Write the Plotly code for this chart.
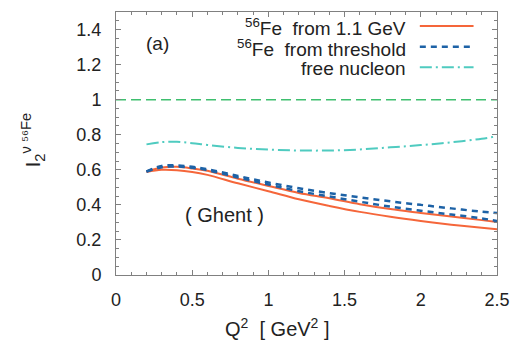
import plotly.graph_objects as go

# Q^2 grid [GeV^2]
q2 = [0.2, 0.3, 0.4, 0.5, 0.6, 0.8, 1.0, 1.2, 1.4, 1.6, 1.8, 2.0, 2.2, 2.4, 2.5]

# 56Fe from 1.1 GeV (band: upper / lower)
fe_11_upper = [0.590, 0.613, 0.617, 0.608, 0.594, 0.549, 0.508, 0.468, 0.438, 0.404, 0.376, 0.354, 0.333, 0.313, 0.302]
fe_11_lower = [0.588, 0.600, 0.598, 0.588, 0.571, 0.523, 0.478, 0.432, 0.394, 0.360, 0.332, 0.308, 0.287, 0.269, 0.261]

# 56Fe from threshold (band: upper / lower)
fe_th_upper = [0.590, 0.622, 0.625, 0.617, 0.603, 0.565, 0.528, 0.495, 0.467, 0.443, 0.420, 0.400, 0.380, 0.361, 0.354]
fe_th_lower = [0.590, 0.615, 0.619, 0.612, 0.598, 0.556, 0.516, 0.478, 0.448, 0.418, 0.390, 0.367, 0.345, 0.323, 0.308]

# free nucleon
free_nuc = [0.745, 0.758, 0.760, 0.752, 0.742, 0.725, 0.715, 0.710, 0.710, 0.716, 0.728, 0.741, 0.757, 0.777, 0.792]

# reference line
ref_x = [0.0, 2.5]
ref_y = [1.0, 1.0]

legend_labels = ["<sup>56</sup>Fe  from 1.1 GeV", "<sup>56</sup>Fe  from threshold", "free nucleon"]
x_tickvals = [0, 0.5, 1, 1.5, 2, 2.5]
x_ticktext = ["0", "0.5", "1", "1.5", "2", "2.5"]
y_tickvals = [0, 0.2, 0.4, 0.6, 0.8, 1.0, 1.2, 1.4]
y_ticktext = ["0", "0.2", "0.4", "0.6", "0.8", "1", "1.2", "1.4"]

RED = "#f5663a"
BLUE = "#1d62a6"
CYAN = "#4fcbc0"
GREEN = "#3fbf6f"
TXT = "#222222"
FONT = "Liberation Sans, Arial, sans-serif"

H = 340.0
T, B, L, R = 11.0, 65.0, 116.0, 15.0
pw = 521.0 - L - R
ph = H - T - B


def px(xp):
    return (xp - L) / pw


def py(yp):
    return 1 - (yp - T) / ph


fig = go.Figure()
fig.add_trace(go.Scatter(x=ref_x, y=ref_y, mode="lines",
                         line=dict(color=GREEN, width=1.5, dash="10px,5px"), showlegend=False))
fig.add_trace(go.Scatter(x=q2, y=free_nuc, mode="lines", line_shape="spline",
                         line=dict(color=CYAN, width=2, dash="12px,4px,2px,4px"), showlegend=False))
for ys in (fe_11_upper, fe_11_lower):
    fig.add_trace(go.Scatter(x=q2, y=ys, mode="lines", line_shape="spline",
                             line=dict(color=RED, width=2), showlegend=False))
for ys in (fe_th_upper, fe_th_lower):
    fig.add_trace(go.Scatter(x=q2, y=ys, mode="lines", line_shape="spline",
                             line=dict(color=BLUE, width=2.5, dash="6px,5px"), showlegend=False))

# manual legend (text right-aligned, sample line to the right)
leg_styles = [dict(color=RED, width=2), dict(color=BLUE, width=2.5, dash="6px,5px"),
              dict(color=CYAN, width=2, dash="12px,4px,2px,4px")]
leg_line_y = [25.0, 46.0, 66.5]
leg_text_y = [26.5, 47.0, 67.5]
for lab, st, yl, yt in zip(legend_labels, leg_styles, leg_line_y, leg_text_y):
    fig.add_annotation(x=px(415), y=py(yt), xref="paper", yref="paper", text=lab, showarrow=False,
                       xanchor="right", yanchor="middle", font=dict(size=19, color=TXT, family=FONT))
    fig.add_shape(type="line", xref="paper", yref="paper",
                  x0=px(427), x1=px(482), y0=py(yl), y1=py(yl), line=st)

fig.add_annotation(x=px(158), y=py(43), xref="paper", yref="paper", text="(a)",
                   showarrow=False, xanchor="center", yanchor="middle",
                   font=dict(size=19, color=TXT, family=FONT))
fig.add_annotation(x=px(227), y=py(215), xref="paper", yref="paper", text="( Ghent )",
                   showarrow=False, xanchor="center", yanchor="middle",
                   font=dict(size=20, color=TXT, family=FONT))
fig.add_annotation(x=px(281), y=py(328), xref="paper", yref="paper",
                   text="Q<sup>2</sup>  [ GeV<sup>2</sup> ]",
                   showarrow=False, xanchor="center", yanchor="middle",
                   font=dict(size=20, color=TXT, family=FONT))
fig.add_annotation(x=px(31), y=py(139), xref="paper", yref="paper",
                   text="I<sub>2</sub><sup>ν ⁵⁶Fe</sup>", textangle=-90,
                   showarrow=False, xanchor="center", yanchor="middle",
                   font=dict(size=21, color=TXT, family=FONT))

axis_common = dict(showgrid=False, zeroline=False, showline=True, linecolor="#808080", linewidth=1,
                   mirror="allticks", ticks="inside", ticklen=5, tickcolor="#808080", tickwidth=1,
                   tickfont=dict(size=18, color=TXT, family=FONT))
fig.update_xaxes(range=[0, 2.5], tickvals=x_tickvals, ticktext=x_ticktext,
                 minor=dict(dtick=0.1, tick0=0, ticks="inside", ticklen=3, tickcolor="#808080"),
                 ticklabelstandoff=8, **axis_common)
fig.update_yaxes(range=[0, 1.5], tickvals=y_tickvals, ticktext=y_ticktext,
                 minor=dict(dtick=0.05, tick0=0, ticks="inside", ticklen=3, tickcolor="#808080"),
                 ticklabelstandoff=10, **axis_common)
fig.update_layout(width=521, height=340, margin=dict(l=L, r=R, t=T, b=B),
                  plot_bgcolor="white", paper_bgcolor="white", showlegend=False,
                  font=dict(family=FONT, color=TXT))
fig.write_html("out.html")
